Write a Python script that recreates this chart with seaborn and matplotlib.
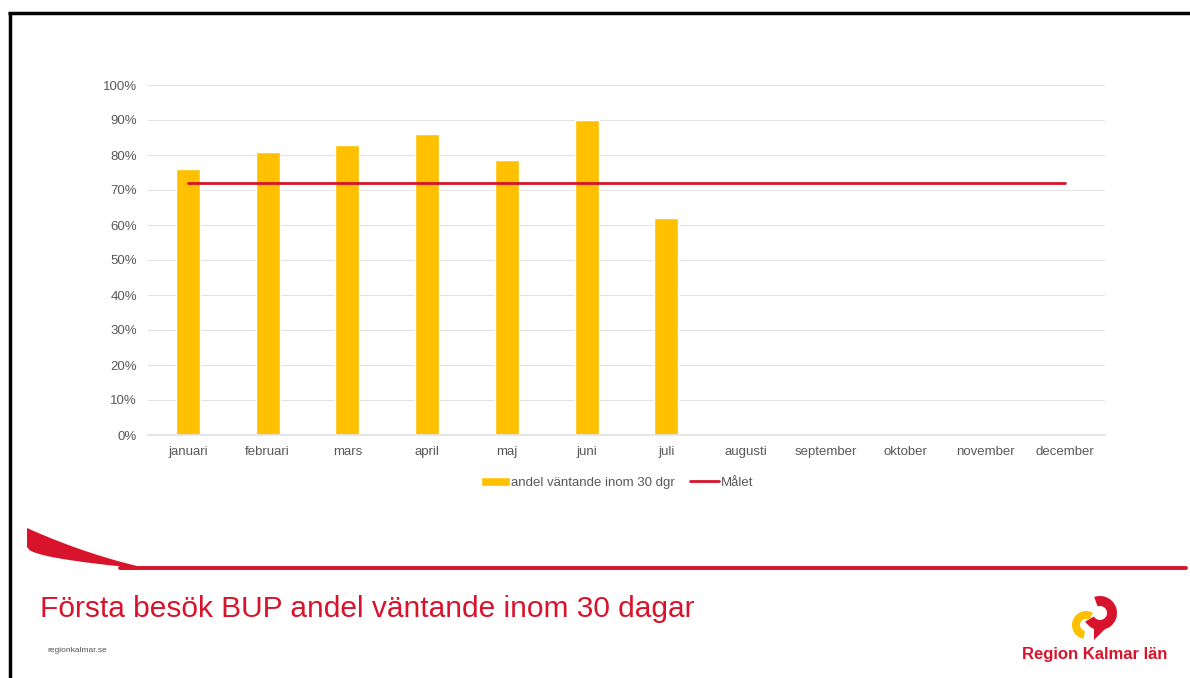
import matplotlib
matplotlib.use("Agg")
import matplotlib.pyplot as plt
import numpy as np
import pandas as pd
import seaborn as sns
from matplotlib.patches import Polygon, Wedge

months = ['januari', 'februari', 'mars', 'april', 'maj', 'juni', 'juli',
          'augusti', 'september', 'oktober', 'november', 'december']
andel = [0.76, 0.81, 0.83, 0.86, 0.785, 0.90, 0.62,
         np.nan, np.nan, np.nan, np.nan, np.nan]
malet = [0.72] * 12
yticks = np.arange(0, 1.01, 0.1)

bar_color = '#FFC000'
red = '#D7142B'

sns.set_theme(style='white')
plt.rcParams['font.family'] = ['Liberation Sans', 'DejaVu Sans']

df = pd.DataFrame({'month': months, 'andel': andel, 'malet': malet})

fig = plt.figure(figsize=(11.9, 6.78), dpi=100)

# slide decoration in pixel coordinates
bg = fig.add_axes([0, 0, 1, 1], zorder=0)
bg.set_xlim(0, 1190)
bg.set_ylim(678, 0)
bg.axis('off')
bg.plot([8, 1190], [13, 13], color='black', lw=2.5, solid_capstyle='butt')
bg.plot([9.5, 9.5], [12, 678], color='black', lw=2.5, solid_capstyle='butt')
t = np.linspace(0, 1, 40)
top = np.column_stack([27 + 110 * t, 528 + 38 * (1.3 * t - 0.3 * t ** 2)])
bot = np.column_stack([27 + 110 * t[::-1], 547 + 21 * np.sqrt(t[::-1])])
bg.add_patch(Polygon(np.vstack([top, bot]), closed=True, color=red, lw=0))
bg.plot([120, 1186], [567.5, 567.5], color=red, lw=2.8, solid_capstyle='round')
bg.text(40, 609, 'Första besök BUP andel väntande inom 30 dagar', color=red,
        fontsize=21.5, va='center', ha='left')
bg.text(47, 651, 'regionkalmar.se', color='#555555', fontsize=6, va='center')
# logo
bg.add_patch(Wedge((1100, 613), 17, -110, 150, width=10, color=red, lw=0))
bg.add_patch(Polygon([[1094, 622], [1106, 628], [1094, 640]], closed=True,
                     color=red, lw=0))
bg.add_patch(Wedge((1086, 625), 14, 100, 300, width=8, color=bar_color, lw=0))
bg.text(1095, 654, 'Region Kalmar län', color=red, fontsize=12,
        ha='center', va='center', fontweight='bold', fontstretch='condensed')

ax = fig.add_axes([148 / 1190, 1 - 435 / 678, (1105 - 148) / 1190, (435 - 85) / 678])
sns.barplot(data=df, x='month', y='andel', order=months, color=bar_color,
            width=0.3, saturation=1, ax=ax, label='andel väntande inom 30 dgr')
sns.lineplot(data=df, x='month', y='malet', color=red, lw=2, ax=ax,
             sort=False, label='Målet')

ax.set_ylim(0, 1)
ax.set_xlim(-0.5, 11.5)
ax.set_yticks(yticks)
ax.set_yticklabels([f'{int(round(v * 100))}%' for v in yticks])
ax.yaxis.grid(True, color='#e3e3e3', lw=0.8)
ax.set_axisbelow(True)
for s in ax.spines.values():
    s.set_visible(False)
ax.spines['bottom'].set_visible(True)
ax.spines['bottom'].set_color('#e3e3e3')
ax.tick_params(axis='both', length=0, labelsize=9.5, colors='#595959', pad=8)
ax.set_xlabel('')
ax.set_ylabel('')
handles, labels = ax.get_legend_handles_labels()
order = [labels.index('andel väntande inom 30 dgr'), labels.index('Målet')]
ax.legend([handles[i] for i in order], [labels[i] for i in order],
          loc='upper center', bbox_to_anchor=(0.49, -0.085), ncol=2, frameon=False,
          fontsize=9.5, labelcolor='#595959', handlelength=2.2, handletextpad=0.1,
          columnspacing=1.2)

fig.savefig('out.png', dpi=100)
